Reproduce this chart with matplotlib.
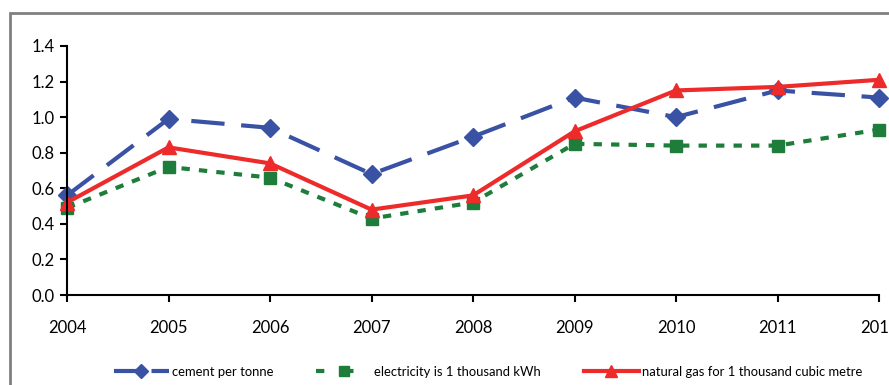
import matplotlib
matplotlib.use("Agg")
import matplotlib.pyplot as plt
from matplotlib.patches import Rectangle
from matplotlib.lines import Line2D

years = ["2004", "2005", "2006", "2007", "2008", "2009", "2010", "2011", "2012"]
cement = [0.56, 0.99, 0.94, 0.68, 0.89, 1.11, 1.00, 1.15, 1.11]
electricity = [0.49, 0.72, 0.66, 0.43, 0.52, 0.85, 0.84, 0.84, 0.93]
gas = [0.52, 0.83, 0.74, 0.48, 0.56, 0.92, 1.15, 1.17, 1.21]
labels = ["cement per tonne", "electricity is 1 thousand kWh", "natural gas for 1 thousand cubic metre"]

plt.rcParams['font.family'] = ['Lato', 'DejaVu Sans']

W, H = 889, 385
fig = plt.figure(figsize=(W / 100, H / 100), dpi=100)
fig.patches.append(Rectangle((10 / W, -0.1), 1.2, 1 - 13 / H + 0.1, transform=fig.transFigure,
                             fill=False, edgecolor='#808080', linewidth=2))

ax = fig.add_axes([67 / W, 1 - 295 / H, (879 - 67) / W, (295 - 46) / H])
x = list(range(len(years)))

blue = '#3A52A4'
green = '#1F7D3B'
red = '#EE2B2B'

ax.plot(x, cement, color=blue, lw=3, dashes=(8, 4), marker='D', ms=9, clip_on=False)
ax.plot(x, electricity, color=green, lw=3, dashes=(2, 2.2), marker='s', ms=8, clip_on=False)
ax.plot(x, gas, color=red, lw=3, marker='^', ms=10, clip_on=False)

ax.set_xlim(0, len(years) - 1)
ax.set_ylim(0, 1.4)
yt = [0, 0.2, 0.4, 0.6, 0.8, 1.0, 1.2, 1.4]
ax.set_yticks(yt)
ax.set_yticklabels([f"{v:.1f}" for v in yt])
ax.set_xticks(x)
ax.set_xticklabels(years)
ax.spines['top'].set_visible(False)
ax.spines['right'].set_visible(False)
for s in ['left', 'bottom']:
    ax.spines[s].set_linewidth(1.5)
ax.tick_params(axis='both', direction='out', length=5, width=1.5, labelsize=12, colors='black')
ax.tick_params(axis='x', pad=13)
ax.tick_params(axis='y', pad=4)
for lab in ax.get_xticklabels():
    lab.set_clip_on(False)

handles = [
    Line2D([], [], color=blue, lw=3, dashes=(6, 3), marker='D', ms=7),
    Line2D([], [], color=green, lw=3, dashes=(2, 5), marker='s', ms=7),
    Line2D([], [], color=red, lw=3, marker='^', ms=8),
]
fig.legend(handles, labels, loc='center', bbox_to_anchor=(488 / W, 1 - 372 / H), ncol=3,
           frameon=False, fontsize=9.4, handlelength=4.2, handletextpad=0.23, columnspacing=3.3,
           borderpad=0, borderaxespad=0)

fig.savefig("out.png", dpi=100)
